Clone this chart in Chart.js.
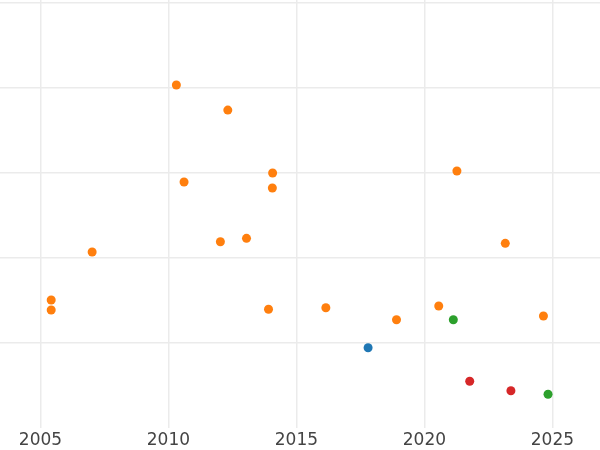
<!DOCTYPE html>
<html>
<head>
<meta charset="utf-8">
<script src="https://cdn.jsdelivr.net/npm/chart.js@4/dist/chart.umd.min.js"></script>
<style>
  html, body { margin: 0; padding: 0; background: #fff; }
  #wrap { width: 600px; height: 450px; }
</style>
</head>
<body>
<div id="wrap"><canvas id="chart" width="600" height="450"></canvas></div>
<script>
// 年份刻度
const yearTicks = [2005, 2010, 2015, 2020, 2025];
const yGrid = [0, 1, 2, 3, 4, 5];

// 各组数据点 (x: 年份, y: 数值)
const orangeYears = [2010.31, 2012.32, 2010.61, 2014.07, 2014.06, 2021.27, 2012.03, 2013.05, 2007.02,
  2023.16, 2005.42, 2005.42, 2013.91, 2016.15, 2018.91, 2020.56, 2024.65];
const orangeValues = [4.03, 3.735, 2.888, 2.994, 2.818, 3.018, 2.186, 2.226, 2.065,
  2.167, 1.5, 1.382, 1.391, 1.409, 1.268, 1.429, 1.312];
const blueYears = [2017.80];
const blueValues = [0.939];
const greenYears = [2021.13, 2024.83];
const greenValues = [1.268, 0.391];
const redYears = [2021.77, 2023.38];
const redValues = [0.544, 0.433];

function toPoints(xs, ys) {
  return xs.map((x, i) => ({ x: x, y: ys[i] }));
}

function makeSet(label, xs, ys, color) {
  return {
    label: label,
    data: toPoints(xs, ys),
    backgroundColor: color,
    borderWidth: 0,
    pointRadius: 4.5,
    pointHoverRadius: 4.5
  };
}

const gridColor = '#ebebeb';

new Chart(document.getElementById('chart').getContext('2d'), {
  type: 'scatter',
  data: {
    datasets: [
      makeSet('orange', orangeYears, orangeValues, '#ff7f0e'),
      makeSet('blue', blueYears, blueValues, '#1f77b4'),
      makeSet('green', greenYears, greenValues, '#2ca02c'),
      makeSet('red', redYears, redValues, '#d62728')
    ]
  },
  options: {
    responsive: false,
    animation: false,
    layout: { padding: 0, autoPadding: false },
    plugins: {
      legend: { display: false },
      tooltip: { enabled: false }
    },
    scales: {
      x: {
        type: 'linear',
        min: 2003.42,
        max: 2026.86,
        afterBuildTicks: axis => { axis.ticks = yearTicks.map(v => ({ value: v })); },
        afterFit: axis => { axis.height = 22.5; },
        border: { display: false },
        grid: { color: gridColor, lineWidth: 1.5, drawTicks: false },
        ticks: {
          autoSkip: false,
          maxRotation: 0,
          padding: 3,
          color: '#444',
          font: { family: 'DejaVu Sans', size: 17 },
          callback: v => String(v)
        }
      },
      y: {
        min: 0,
        max: 5.03,
        afterBuildTicks: axis => { axis.ticks = yGrid.map(v => ({ value: v })); },
        border: { display: false },
        grid: {
          color: ctx => (ctx.tick && ctx.tick.value === 0) ? 'rgba(0,0,0,0)' : gridColor,
          lineWidth: 1.5,
          drawTicks: false
        },
        ticks: { display: false }
      }
    }
  }
});
</script>
</body>
</html>
